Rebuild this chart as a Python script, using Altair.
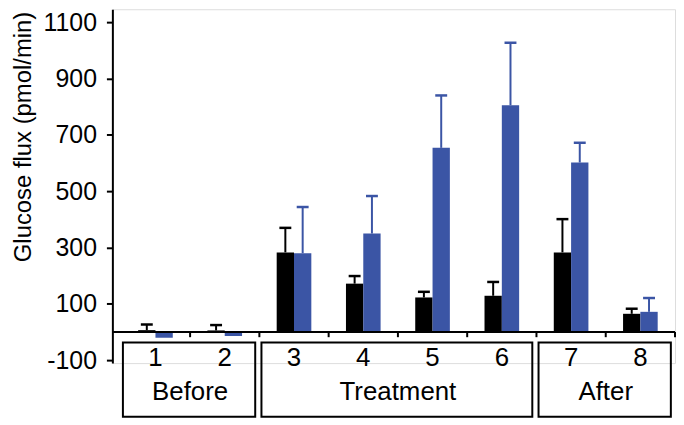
import altair as alt
import pandas as pd

# ---- data ----
categories = [1, 2, 3, 4, 5, 6, 7, 8]
black_mean = [7, 6, 283, 172, 123, 129, 283, 65]
black_err = [20, 19, 87, 27, 20, 49, 118, 18]
blue_mean = [-20, -14, 280, 350, 654, 805, 602, 72]
blue_err = [0, 0, 164, 133, 186, 222, 70, 49]

series_names = ["Black", "Blue"]
series_colors = ["#000000", "#3B55A5"]

group_names = ["Before", "Treatment", "After"]
group_first = [1, 3, 7]
group_last = [2, 6, 8]

y_ticks = [-100, 100, 300, 500, 700, 900, 1100]
x_boundaries = [1.5, 2.5, 3.5, 4.5, 5.5, 6.5, 7.5, 8.5]

FONT = "Liberation Sans"

rows = []
for i, c in enumerate(categories):
    rows.append({"cat": c, "label": str(c), "series": series_names[0], "idx": 0,
                 "mean": black_mean[i], "err": black_err[i]})
    rows.append({"cat": c, "label": str(c), "series": series_names[1], "idx": 1,
                 "mean": blue_mean[i], "err": blue_err[i]})
df = pd.DataFrame(rows)
cats_df = pd.DataFrame({"cat": categories, "label": [str(c) for c in categories]})
groups_df = pd.DataFrame({"name": group_names, "first": group_first, "last": group_last})
bounds_df = pd.DataFrame({"b": x_boundaries})

xscale = alt.Scale(domain=[0.378, 8.5], nice=False, zero=False)
yscale = alt.Scale(domain=[-110, 1146], nice=False, zero=False)
color = alt.Color("series:N", scale=alt.Scale(domain=series_names, range=series_colors), legend=None)

base = alt.Chart(df).transform_calculate(
    x0="datum.cat - 0.25 + datum.idx * 0.25",
    x1="datum.cat + datum.idx * 0.25",
    xc="datum.cat - 0.125 + datum.idx * 0.25",
    top="datum.mean + datum.err",
)

bars = base.mark_rect().encode(
    x=alt.X("x0:Q", scale=xscale, axis=None),
    x2="x1:Q",
    y=alt.Y("mean:Q", scale=yscale,
            axis=alt.Axis(values=y_ticks, title="Glucose flux (pmol/min)", grid=False,
                          labelExpr="'' + datum.value",
                          domainColor="black", domainWidth=2, tickColor="black",
                          tickWidth=2, tickSize=6, labelPadding=10,
                          labelFont=FONT, labelFontSize=25, labelColor="black",
                          titleFont=FONT, titleFontSize=24, titleFontWeight="normal",
                          titleColor="black", titlePadding=8, titleY=128)),
    y2=alt.datum(0),
    color=color,
)

# horizontal zero axis line and its between-category ticks
zero_line = alt.Chart(bounds_df).mark_rule(color="black", strokeWidth=2).encode(
    x=alt.value(0), x2=alt.value("width"), y=alt.datum(0),
)
zero_ticks = alt.Chart(bounds_df).mark_rule(color="black", strokeWidth=2).encode(
    x="b:Q", y=alt.datum(0), y2=alt.datum(-18),
)

err_base = base.transform_filter("datum.err > 0")
err_line = err_base.mark_rule(strokeWidth=2).encode(
    x="xc:Q", y="mean:Q", y2="top:Q", color=color,
)
err_cap = err_base.transform_calculate(
    c0="datum.xc - 0.086", c1="datum.xc + 0.086"
).mark_rule(strokeWidth=2.5).encode(
    x="c0:Q", x2="c1:Q", y="top:Q", color=color,
)

boxes = alt.Chart(groups_df).transform_calculate(
    bx0="datum.first - 0.47", bx1="datum.last + 0.44"
).mark_rect(fill="white", fillOpacity=0, stroke="black", strokeWidth=2).encode(
    x="bx0:Q", x2="bx1:Q", y=alt.value(335.3), y2=alt.value(410),
)

group_text = alt.Chart(groups_df).transform_calculate(
    mid="(datum.first + datum.last) / 2"
).mark_text(font=FONT, fontSize=26, baseline="alphabetic", color="black").encode(
    x="mid:Q", y=alt.value(393.5), text="name:N",
)

cat_text = alt.Chart(cats_df).mark_text(
    font=FONT, fontSize=26, baseline="alphabetic", color="black"
).encode(
    x="cat:Q", y=alt.value(359), text="label:N",
)

chart = alt.layer(bars, err_line, err_cap, zero_line, zero_ticks, boxes,
                  cat_text, group_text).properties(
    width=566, height=356, padding={"left": 3, "top": 0, "right": 0, "bottom": 0}
).configure_view(stroke=None).configure(background="white")

chart.save("out.html", embed_options={"renderer": "svg", "actions": False})
